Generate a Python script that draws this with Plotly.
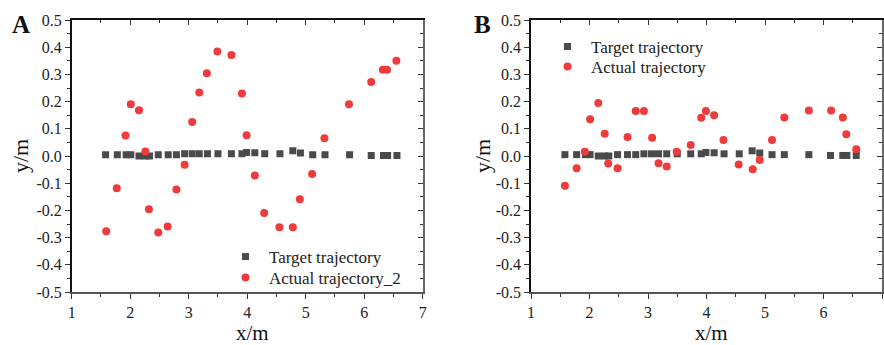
import plotly.graph_objects as go

# ---------------- data ----------------
target_x = [1.58, 1.78, 1.93, 2.01, 2.15, 2.26, 2.33, 2.48, 2.65, 2.79,
            2.93, 3.06, 3.18, 3.32, 3.50, 3.73, 3.91, 3.99, 4.13, 4.30,
            4.56, 4.78, 4.91, 5.12, 5.33, 5.75, 6.12, 6.33, 6.40, 6.56]
target_y = [0.005, 0.005, 0.005, 0.005, 0.0, 0.0, 0.0, 0.005, 0.005, 0.005,
            0.008, 0.008, 0.008, 0.008, 0.008, 0.008, 0.008, 0.013, 0.012, 0.008,
            0.008, 0.019, 0.011, 0.005, 0.005, 0.005, 0.002, 0.002, 0.002, 0.002]

actual2_x = [1.59, 1.77, 1.92, 2.01, 2.15, 2.26, 2.32, 2.48, 2.64, 2.79,
             2.93, 3.06, 3.18, 3.31, 3.49, 3.73, 3.91, 3.99, 4.13, 4.29,
             4.55, 4.78, 4.90, 5.11, 5.32, 5.74, 6.12, 6.32, 6.39, 6.55]
actual2_y = [-0.277, -0.119, 0.075, 0.190, 0.168, 0.017, -0.196, -0.281, -0.259, -0.123,
             -0.032, 0.125, 0.233, 0.304, 0.384, 0.371, 0.230, 0.076, -0.072, -0.210,
             -0.262, -0.262, -0.159, -0.066, 0.065, 0.190, 0.272, 0.317, 0.317, 0.350]

actual_x = [1.58, 1.78, 1.92, 2.01, 2.15, 2.26, 2.32, 2.48, 2.65, 2.79,
            2.93, 3.07, 3.18, 3.32, 3.49, 3.73, 3.91, 3.99, 4.13, 4.29,
            4.55, 4.79, 4.91, 5.12, 5.33, 5.75, 6.13, 6.33, 6.39, 6.56]
actual_y = [-0.109, -0.045, 0.016, 0.135, 0.195, 0.082, -0.028, -0.045, 0.070, 0.165,
            0.165, 0.067, -0.027, -0.039, 0.016, 0.040, 0.141, 0.165, 0.150, 0.059,
            -0.031, -0.049, -0.015, 0.059, 0.142, 0.167, 0.167, 0.142, 0.080, 0.025]

x_ticks = [1, 2, 3, 4, 5, 6, 7]
y_ticks = [-0.5, -0.4, -0.3, -0.2, -0.1, 0.0, 0.1, 0.2, 0.3, 0.4, 0.5]
y_tick_text = ["-0.5", "-0.4", "-0.3", "-0.2", "-0.1", "0.0", "0.1", "0.2", "0.3", "0.4", "0.5"]

# ---------------- style ----------------
FONT = "Liberation Serif, Times New Roman, serif"
SQ = "#4a4a4a"
RED = "#ef3b3b"
W, H = 884, 345

def fx(px):
    return px / W

def fy(py):
    return 1 - py / H

domA = [fx(71.7), fx(422.7)]
domB = [fx(531), fx(882)]
domY = [fy(292), fy(20)]

fig = go.Figure()

def add_panel(xa, ya, ax, ay, name_actual, leg_t, leg_a):
    fig.add_trace(go.Scatter(x=target_x, y=target_y, mode="markers", name="Target trajectory",
                             marker=dict(symbol="square", size=7, color=SQ),
                             xaxis=xa, yaxis=ya, legend=leg_t))
    fig.add_trace(go.Scatter(x=ax, y=ay, mode="markers", name=name_actual,
                             marker=dict(symbol="circle", size=8, color=RED),
                             xaxis=xa, yaxis=ya, legend=leg_a))

add_panel("x", "y", actual2_x, actual2_y, "Actual trajectory_2", "legend", "legend3")
add_panel("x2", "y2", actual_x, actual_y, "Actual trajectory", "legend2", "legend4")

# dummy traces for the mirrored (inside-tick) top/right axes
for xa, ya in [("x3", "y3"), ("x4", "y4")]:
    fig.add_trace(go.Scatter(x=[], y=[], xaxis=xa, yaxis=ya, showlegend=False, hoverinfo="skip"))

def xaxis_main(dom, anchor):
    return dict(domain=dom, anchor=anchor, range=[1, 7], tickvals=x_ticks,
                ticks="outside", ticklen=5, tickwidth=1, tickcolor="#333",
                minor=dict(dtick=0.5, tick0=1, ticks="outside", ticklen=3, tickcolor="#333"),
                showline=True, linecolor="#555", linewidth=1.5,
                showgrid=False, zeroline=False, automargin=False,
                tickfont=dict(family=FONT, size=16, color="#222"))

def yaxis_main(anchor):
    return dict(domain=domY, anchor=anchor, range=[-0.5, 0.5], tickvals=y_ticks, ticktext=y_tick_text,
                ticks="outside", ticklen=5, tickwidth=1, tickcolor="#333",
                minor=dict(dtick=0.05, tick0=0, ticks="outside", ticklen=3, tickcolor="#333"),
                showline=True, linecolor="#111", linewidth=1.5,
                showgrid=False, zeroline=False, automargin=False,
                tickfont=dict(family=FONT, size=16, color="#222"))

def xaxis_top(over, anchor, dom):
    return dict(overlaying=over, side="top", anchor=anchor, domain=dom, range=[1, 7], tickvals=x_ticks,
                ticks="inside", ticklen=5, tickcolor="#333",
                minor=dict(dtick=0.5, tick0=1, ticks="inside", ticklen=3, tickcolor="#333"),
                showline=True, linecolor="#111", linewidth=1.5, showticklabels=False,
                showgrid=False, zeroline=False, automargin=False)

def yaxis_right(over, anchor):
    return dict(overlaying=over, side="right", anchor=anchor, domain=domY, range=[-0.5, 0.5],
                tickvals=y_ticks,
                ticks="inside", ticklen=5, tickcolor="#333",
                minor=dict(dtick=0.05, tick0=0, ticks="inside", ticklen=3, tickcolor="#333"),
                showline=True, linecolor="#666", linewidth=1.5, showticklabels=False,
                showgrid=False, zeroline=False, automargin=False)

def leg(xpx, ypx):
    return dict(x=fx(xpx), y=fy(ypx), xanchor="left", yanchor="middle",
                font=dict(family=FONT, size=17, color="#222"), bgcolor="rgba(0,0,0,0)",
                itemwidth=37, borderwidth=0)

fig.update_layout(
    width=W, height=H, margin=dict(l=0, r=0, t=0, b=0, pad=0, autoexpand=False), autosize=False,
    paper_bgcolor="white", plot_bgcolor="white",
    xaxis=xaxis_main(domA, "y"), yaxis=yaxis_main("x"),
    xaxis2=xaxis_main(domB, "y2"), yaxis2=yaxis_main("x2"),
    xaxis3=xaxis_top("x", "y3", domA), yaxis3=yaxis_right("y", "x3"),
    xaxis4=xaxis_top("x2", "y4", domB), yaxis4=yaxis_right("y2", "x4"),
    legend=leg(222, 257), legend3=leg(222, 278),
    legend2=leg(544, 47), legend4=leg(544, 67),
    showlegend=True,
)

ann = []
for x, lab in [(21, "A"), (483, "B")]:
    ann.append(dict(x=fx(x), y=fy(24), xref="paper", yref="paper", text="<b>%s</b>" % lab,
                    xanchor="center", yanchor="middle",
                    showarrow=False, font=dict(family=FONT, size=25, color="#111")))
for x in [252, 711]:
    ann.append(dict(x=fx(x), y=fy(333), xref="paper", yref="paper", text="x/m",
                    xanchor="center", yanchor="middle",
                    showarrow=False, font=dict(family=FONT, size=21, color="#111")))
for x in [20, 482]:
    ann.append(dict(x=fx(x), y=fy(156), xref="paper", yref="paper", text="y/m", textangle=-90,
                    xanchor="center", yanchor="middle",
                    showarrow=False, font=dict(family=FONT, size=22, color="#111")))
fig.update_layout(annotations=ann)

post = """
document.documentElement.style.margin='0';
document.documentElement.style.padding='0';
document.documentElement.style.overflow='hidden';
document.body.style.margin='0';
document.body.style.padding='0';
document.body.style.overflow='hidden';
var gd = document.getElementById('{plot_id}');
gd.style.position='fixed'; gd.style.left='0px'; gd.style.top='0px';
gd.style.width='884px'; gd.style.height='345px';
Plotly.relayout(gd, {width: 884, height: 345});
"""

fig.write_html("out.html", config={"responsive": False, "displayModeBar": False}, post_script=post)
